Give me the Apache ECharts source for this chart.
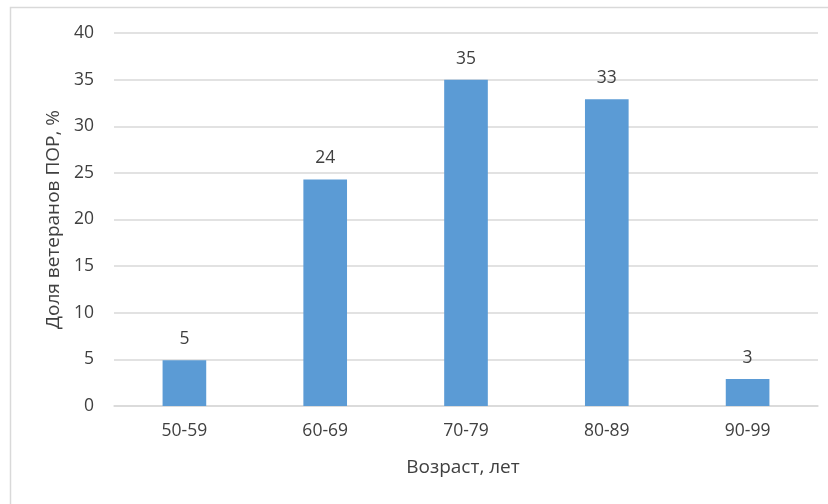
<!DOCTYPE html>
<html><head><meta charset="utf-8">
<script src="https://cdn.jsdelivr.net/npm/echarts@6/dist/echarts.min.js"></script>
<style>html,body{margin:0;padding:0;background:#fff}#c{width:828px;height:504px}</style>
</head><body><div id="c"></div>
<script>
const categories = ['50-59', '60-69', '70-79', '80-89', '90-99'];
const values = [4.9, 24.3, 35, 32.9, 2.9];
const yMin = 0, yMax = 40, yInterval = 5;
const yTitle = 'Доля ветеранов ПОР, %';
const xTitle = 'Возраст, лет';

const font = '"Open Sans", "Noto Sans", sans-serif';
const chart = echarts.init(document.getElementById('c'));
chart.setOption({
  animation: false,
  graphic: [{type: 'rect', shape: {x: 10.5, y: 7.5, width: 830, height: 520}, style: {fill: 'none', stroke: '#d9d9d9', lineWidth: 1.5}, silent: true}],
  grid: {left: 114, right: 10, top: 33, bottom: 98},
  xAxis: {
    type: 'category', data: categories,
    axisLine: {lineStyle: {color: '#d9d9d9', width: 1.5}},
    axisTick: {show: false},
    axisLabel: {color: '#404040', fontSize: 17.5, fontFamily: font, margin: 16},
    name: xTitle, nameLocation: 'middle', nameGap: 52,
    nameTextStyle: {color: '#404040', fontSize: 19, fontFamily: font, padding: [0, 6, 0, 0]}
  },
  yAxis: {
    type: 'value', min: yMin, max: yMax, interval: yInterval,
    axisLine: {show: false}, axisTick: {show: false},
    splitLine: {lineStyle: {color: '#d9d9d9', width: 1.5}},
    axisLabel: {color: '#404040', fontSize: 17.5, fontFamily: font, margin: 20},
    name: yTitle, nameLocation: 'middle', nameGap: 49,
    nameTextStyle: {color: '#404040', fontSize: 19, fontFamily: font}
  },
  series: [{
    type: 'bar', data: values, barWidth: '31%',
    itemStyle: {color: '#5b9bd5'},
    label: {show: true, position: 'top', distance: 12, color: '#404040', fontSize: 17.5, fontFamily: font,
      formatter: p => Math.round(p.value)}
  }]
});
</script></body></html>
